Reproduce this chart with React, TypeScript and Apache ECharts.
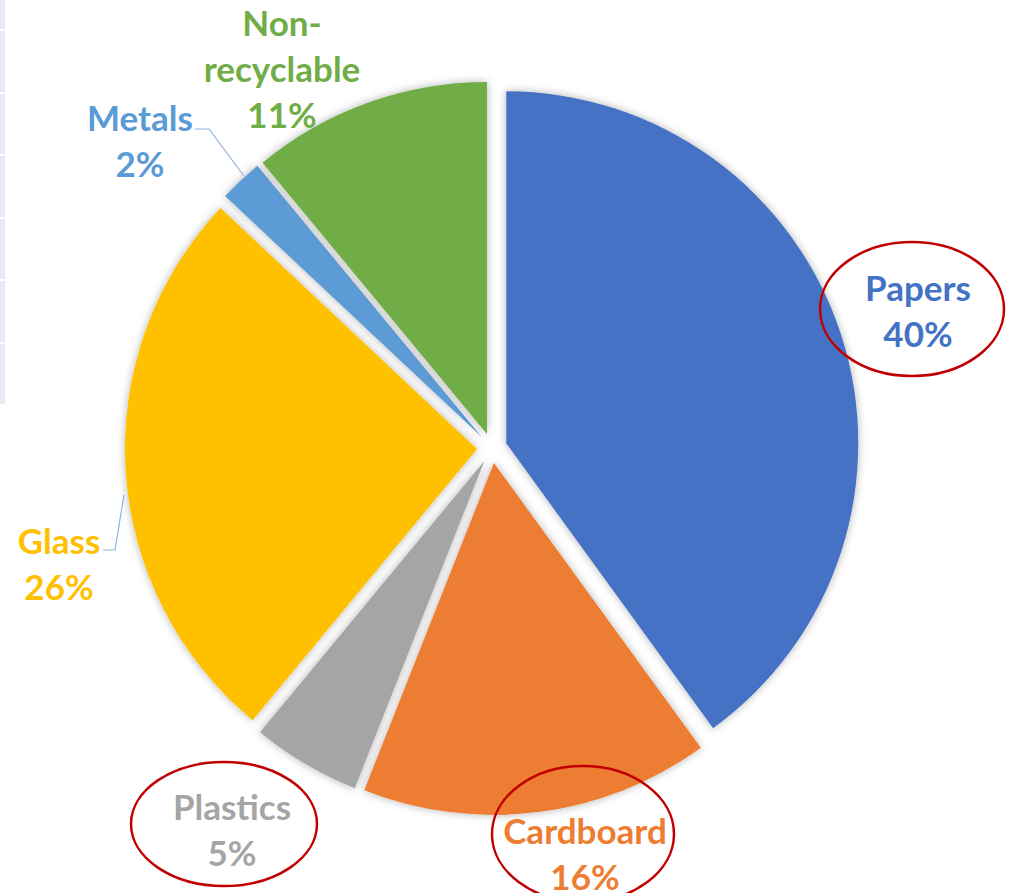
import React, { useEffect, useRef } from "react";
import * as echarts from "echarts";

const categories = ["Papers", "Cardboard", "Plastics", "Glass", "Metals", "Non-recyclable"];
const values = [40, 16, 5, 26, 2, 11];
const colors = ["#4472C4", "#ED7D31", "#A5A5A5", "#FFC000", "#5B9BD5", "#70AD47"];

// label anchor positions (layout only)
const labelPos: [number, number][] = [
  [918, 310],
  [585, 853],
  [232, 829],
  [59, 563],
  [140, 140],
  [282, 68],
];
const leaderLines: (number[][] | null)[] = [
  null,
  null,
  null,
  [[103, 550], [115, 550], [124, 495]],
  [[195, 129], [209, 129], [244, 176]],
  null,
];

export default function App() {
  const ref = useRef<HTMLDivElement>(null);
  useEffect(() => {
    if (!ref.current) return;
    const chart = echarts.init(ref.current, undefined, { renderer: "svg" });
    const total = values.reduce((a, b) => a + b, 0);
    const tableLines = [30, 93, 155, 218, 280, 343];
    const labelTexts = categories.map((name, i) => ({
      type: "text",
      z: 120,
      style: {
        text: `${name.replace("-", "-\n")}\n${Math.round((values[i] / total) * 100)}%`,
        x: labelPos[i][0],
        y: labelPos[i][1],
        fill: colors[i],
        font: "bold 35px Lato, 'Open Sans', sans-serif",
        lineHeight: 46,
        textAlign: "center",
        textVerticalAlign: "middle",
      },
    }));
    const lines = leaderLines
      .map((pts) =>
        pts
          ? {
              type: "polyline",
              z: 110,
              shape: { points: pts },
              style: { fill: "none", stroke: "#8FB0E8", lineWidth: 1.2 },
            }
          : null
      )
      .filter(Boolean);
    const graphics: any[] = [
      { type: "rect", shape: { x: 0, y: 0, width: 5, height: 404 }, style: { fill: "#E8EBF5" }, z: 0 },
      ...tableLines.map((y) => ({
        type: "rect",
        shape: { x: 0, y: y - 1, width: 6, height: 2 },
        style: { fill: "#ffffff" },
        z: 1,
      })),
      ...lines,
      ...labelTexts,
      { type: "ellipse", shape: { cx: 912, cy: 309, rx: 92, ry: 67 }, style: { fill: "none", stroke: "#C00000", lineWidth: 2.5 }, z: 130 },
      { type: "ellipse", shape: { cx: 583, cy: 834, rx: 91, ry: 68 }, style: { fill: "none", stroke: "#C00000", lineWidth: 2.5 }, z: 130 },
      { type: "ellipse", shape: { cx: 224, cy: 824, rx: 93, ry: 62 }, style: { fill: "none", stroke: "#C00000", lineWidth: 2.5 }, z: 130 },
    ];
    chart.setOption({
      animation: false,
      backgroundColor: "#ffffff",
      graphic: graphics,
      series: [
        {
          type: "pie",
          center: [492, 448],
          radius: 352,
          startAngle: 90,
          clockwise: true,
          selectedMode: "multiple",
          selectedOffset: 15,
          select: { itemStyle: { borderWidth: 0 } },
          emphasis: { disabled: true },
          itemStyle: {
            shadowBlur: 8,
            shadowColor: "rgba(0,0,0,0.3)",
          },
          label: { show: false },
          labelLine: { show: false },
          data: categories.map((name, i) => ({
            name,
            value: values[i],
            selected: true,
            itemStyle: { color: colors[i] },
          })),
        },
      ],
    });
    return () => chart.dispose();
  }, []);
  return (
    <div
      ref={ref}
      style={{ position: "fixed", left: 0, top: 0, width: 1013, height: 893 }}
    />
  );
}
